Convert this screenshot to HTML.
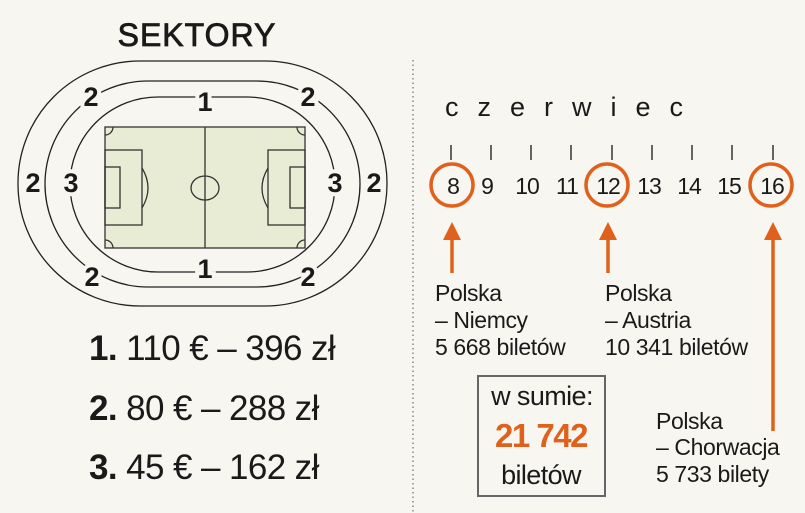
<!DOCTYPE html>
<html><head><meta charset="utf-8"><style>
html,body{margin:0;padding:0;background:#f8f6f0;}
svg{display:block}
text{font-family:"Liberation Sans",sans-serif;fill:#1a1a1a}
.n{font-weight:bold;font-size:27px;text-anchor:middle;paint-order:stroke;stroke:#f8f6f0;stroke-width:8px}
.p{font-size:35px;letter-spacing:-0.6px}
.t{font-size:23px;letter-spacing:-0.4px}
.d{font-size:23px;text-anchor:middle;letter-spacing:-1px}
</style></head><body>
<svg width="805" height="513" viewBox="0 0 805 513">
<rect width="805" height="513" fill="#f8f6f0"/>
<text x="197" y="46" font-size="32" text-anchor="middle" letter-spacing="1" stroke="#1a1a1a" stroke-width="0.8">SEKTORY</text>
<g fill="none" stroke="#222" stroke-width="1.3">
<rect x="18" y="61" width="369" height="245" rx="122" ry="122"/>
<rect x="45" y="81" width="315" height="206" rx="103" ry="103"/>
<rect x="70" y="97" width="265" height="175" rx="88" ry="88"/>
</g>
<g stroke="#333" stroke-width="1.3" fill="#e9ecd5">
<rect x="105" y="127" width="200" height="121"/>
<line x1="205" y1="127" x2="205" y2="248"/>
<ellipse cx="205" cy="188" rx="14" ry="12" fill="none"/>
<rect x="105" y="150" width="37" height="75" fill="none"/>
<rect x="105" y="167" width="15" height="41" fill="none"/>
<path d="M142 168 Q154 188 142 208" fill="none"/>
<rect x="268" y="150" width="37" height="75" fill="none"/>
<rect x="290" y="167" width="15" height="41" fill="none"/>
<path d="M268 168 Q256 188 268 208" fill="none"/>
<path d="M105 135 A8 8 0 0 0 113 127 M297 127 A8 8 0 0 0 305 135 M105 240 A8 8 0 0 1 113 248 M297 248 A8 8 0 0 1 305 240" fill="none"/>
</g>
<text class="n" x="91" y="106">2</text>
<text class="n" x="205" y="111">1</text>
<text class="n" x="308" y="106">2</text>
<text class="n" x="33" y="192">2</text>
<text class="n" x="71" y="192">3</text>
<text class="n" x="335" y="192">3</text>
<text class="n" x="374" y="192">2</text>
<text class="n" x="92" y="286">2</text>
<text class="n" x="205" y="278">1</text>
<text class="n" x="308" y="286">2</text>
<text class="p" x="89" y="360"><tspan font-weight="bold">1.</tspan> 110 € – 396 zł</text>
<text class="p" x="89" y="420"><tspan font-weight="bold">2.</tspan> 80 € – 288 zł</text>
<text class="p" x="89" y="479"><tspan font-weight="bold">3.</tspan> 45 € – 162 zł</text>
<line x1="413" y1="60" x2="413" y2="513" stroke="#888" stroke-width="1.5" stroke-dasharray="1.5,3"/>
<text x="445" y="116" font-size="27" letter-spacing="19">czerwiec</text>
<g stroke="#333" stroke-width="1.5">
<line x1="451" y1="145" x2="451" y2="160"/><line x1="491" y1="145" x2="491" y2="160"/>
<line x1="531" y1="145" x2="531" y2="160"/><line x1="571" y1="145" x2="571" y2="160"/>
<line x1="612" y1="145" x2="612" y2="160"/><line x1="652" y1="145" x2="652" y2="160"/>
<line x1="692" y1="145" x2="692" y2="160"/><line x1="732" y1="145" x2="732" y2="160"/>
<line x1="773" y1="145" x2="773" y2="160"/>
</g>
<text class="d" x="453" y="194">8</text><text class="d" x="487" y="194">9</text>
<text class="d" x="527" y="194">10</text><text class="d" x="567" y="194">11</text>
<text class="d" x="608" y="194">12</text><text class="d" x="649" y="194">13</text>
<text class="d" x="689" y="194">14</text><text class="d" x="729" y="194">15</text>
<text class="d" x="772" y="194">16</text>
<g fill="none" stroke="#e0611b" stroke-width="3.5">
<circle cx="452" cy="185" r="21"/><circle cx="607" cy="185" r="21"/><circle cx="771" cy="185" r="21"/>
<line x1="452" y1="232" x2="452" y2="273"/><line x1="608" y1="232" x2="608" y2="273"/><line x1="773" y1="232" x2="773" y2="431"/>
</g>
<g fill="#e0611b">
<polygon points="452,222 443,240 461,240"/><polygon points="608,222 599,240 617,240"/><polygon points="773,222 764,240 782,240"/>
</g>
<text class="t" x="435" y="301">Polska</text><text class="t" x="435" y="328">– Niemcy</text><text class="t" x="435" y="355">5 668 biletów</text>
<text class="t" x="605" y="301">Polska</text><text class="t" x="605" y="328">– Austria</text><text class="t" x="605" y="355">10 341 biletów</text>
<text class="t" x="656" y="429">Polska</text><text class="t" x="656" y="455">– Chorwacja</text><text class="t" x="656" y="482">5 733 bilety</text>
<rect x="478" y="376" width="127" height="120" fill="none" stroke="#666" stroke-width="2"/>
<text x="542" y="405" font-size="27" text-anchor="middle" letter-spacing="-0.6">w sumie:</text>
<text x="541" y="447" font-size="33" font-weight="bold" text-anchor="middle" style="fill:#e0611b" letter-spacing="-1.5">21 742</text>
<text x="541" y="484" font-size="27" text-anchor="middle" letter-spacing="-0.6">biletów</text>
</svg>
</body></html>
